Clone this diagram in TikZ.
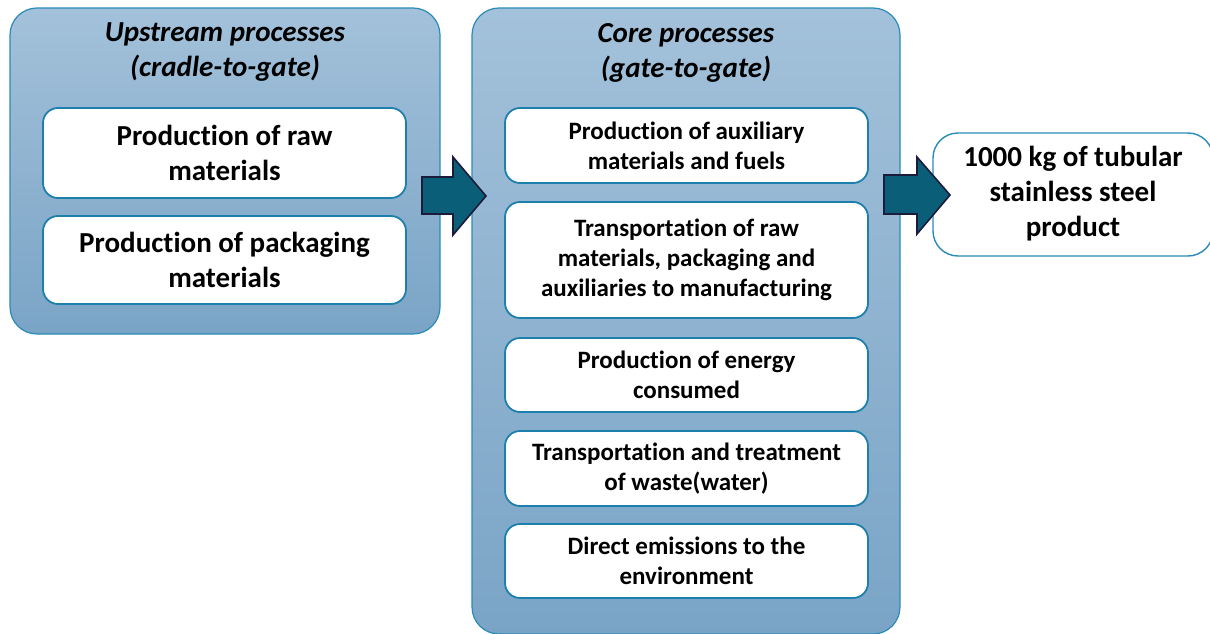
\documentclass[tikz,border=0pt]{standalone}
\usepackage{fontspec}
\setmainfont{Carlito}[Ligatures=NoCommon]
\definecolor{contTop}{RGB}{163,193,218}
\definecolor{contBot}{RGB}{122,164,198}
\definecolor{contLine}{RGB}{42,139,184}
\definecolor{boxLine}{RGB}{28,127,172}
\definecolor{arrFill}{RGB}{10,94,120}
\definecolor{arrLine}{RGB}{27,27,59}
\tikzset{
  container/.style={draw=contLine, line width=1.2pt, rounded corners=27pt,
    top color=contTop, bottom color=contBot, inner sep=0pt},
  procbox/.style={draw=boxLine, line width=1.8pt, rounded corners=15pt, fill=white,
    minimum width=363pt, align=center, inner sep=0pt,
    font=\bfseries\fontsize{29}{35}\selectfont},
  corebox/.style={procbox, font=\bfseries\fontsize{25}{30}\selectfont},
  titletext/.style={align=center, font=\bfseries\itshape\fontsize{29}{35}\selectfont},
  blockarrow/.style={fill=arrFill, draw=arrLine, line width=1.6pt, line join=miter}
}
\begin{document}
\begin{tikzpicture}[x=1pt,y=-1pt]
\useasboundingbox (0,0) rectangle (1210,634);
% containers
\node[container, minimum width=430pt, minimum height=326pt] (up) at (225,171) {};
\node[container, minimum width=428pt, minimum height=626pt] (core) at (686,321) {};
% titles
\node[titletext] (uptitle) at (225,52.5) {Upstream processes\\(cradle-to-gate)};
\node[titletext] (coretitle) at (686,52.5) {Core processes\\(gate-to-gate)};
% upstream boxes
\node[procbox, minimum height=90pt] (raw) at (224.5,153) {Production of raw\\materials};
\node[procbox, minimum height=88pt] (pack) at (224.5,260) {Production of packaging\\materials};
% core boxes
\node[corebox, minimum height=75pt] (aux) at (686.5,145.5) {Production of auxiliary\\materials and fuels};
\node[corebox, minimum height=116pt] (trans) at (686.5,260) {Transportation of raw\\materials, packaging and\\auxiliaries to manufacturing};
\node[corebox, minimum height=74pt] (energy) at (686.5,375) {Production of energy\\consumed};
\node[corebox, minimum height=75pt] (waste) at (686.5,468.5) {Transportation and treatment\\of waste(water)};
\node[corebox, minimum height=74pt] (emis) at (686.5,561) {Direct emissions to the\\environment};
% product
\node[procbox, draw=contLine, line width=1.4pt, rounded corners=25pt, minimum width=280pt, minimum height=123pt] (prod) at (1073,194.5) {\raisebox{-2pt}{\begin{tabular}{@{}c@{}}1000 kg of tubular\\stainless steel\\product\end{tabular}}};
% block arrows
\draw[blockarrow] (422,177) -- (453,177) -- (453,157) -- (486,196) -- (453,235) -- (453,214) -- (422,214) -- cycle;
\draw[blockarrow] (884,175) -- (917,175) -- (917,157) -- (950,195) -- (917,234) -- (917,214) -- (884,214) -- cycle;
\end{tikzpicture}
\end{document}
